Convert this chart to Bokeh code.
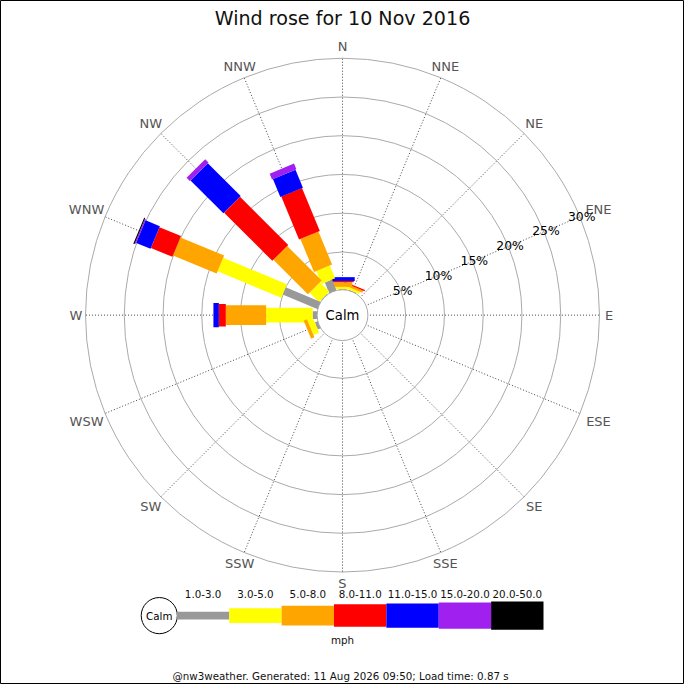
import numpy as np
from bokeh.plotting import figure
from bokeh.models import Range1d
from bokeh.core.properties import value
from bokeh.embed import file_html
from bokeh.resources import INLINE

# ---------------- data ----------------
title_text = "Wind rose for 10 Nov 2016"
footer_text = "@nw3weather. Generated: 11 Aug 2026 09:50; Load time: 0.87 s"
unit_text = "mph"
calm_text = "Calm"

directions = ["N", "NNE", "NE", "ENE", "E", "ESE", "SE", "SSE",
              "S", "SSW", "SW", "WSW", "W", "WNW", "NW", "NNW"]
speed_bins = ["1.0-3.0", "3.0-5.0", "5.0-8.0", "8.0-11.0",
              "11.0-15.0", "15.0-20.0", "20.0-50.0"]

# percent of time, per direction (same order as `directions`)
#            N     NNE   NE   ENE  E    ESE  SE   SSE  S    SSW  SW   WSW   W    WNW   NW    NNW
pct_1_3   = [0.2,  0.2,  0,   0,   0,   0,   0,   0,   0,   0,   0,   0.5,  0.7, 5.0,  0.2,  1.6]
pct_3_5   = [0.3,  0.3,  0,   0,   0,   0,   0,   0,   0,   0,   0,   0.8,  6.0, 8.9,  1.7,  1.8]
pct_5_8   = [0.6,  0.3,  0,   0,   0,   0,   0,   0,   0,   0,   0,   0.45, 5.2, 6.1,  6.3,  4.6]
pct_8_11  = [0.15, 0.15, 0,   0,   0,   0,   0,   0,   0,   0,   0,   0,    0.9, 3.0,  8.8,  6.0]
pct_11_15 = [0.5,  0,    0,   0,   0,   0,   0,   0,   0,   0,   0,   0,    0.7, 2.0,  6.0,  2.5]
pct_15_20 = [0,    0,    0,   0,   0,   0,   0,   0,   0,   0,   0,   0,    0,   0.15, 0.6,  0.8]
pct_20_50 = [0,    0,    0,   0,   0,   0,   0,   0,   0,   0,   0,   0,    0,   0.15, 0,    0]

pct_ticks = [5, 10, 15, 20, 25, 30]

# ---------------- styles ----------------
bin_colors = ["#999999", "#ffff00", "#ffa500", "#ff0000", "#0000ff", "#a020f0", "#000000"]
bin_widths = [8, 15, 20, 23, 25, 27, 29]   # leg width in px
FONT = value("DejaVu Sans")
K = 684 / 700.0

def fs(px):
    return value(f"{px * K:.1f}px")

CX, CY = 350.0, 322.0
R_CALM = 25.0
R_OUT = 263.0
R_PER_PCT = (R_OUT - R_CALM) / pct_ticks[-1]

def rad(p):
    return R_CALM + p * R_PER_PCT

p = figure(width=684, height=684, output_backend="svg", toolbar_location=None,
           x_range=Range1d(0, 700), y_range=Range1d(700, 0),
           x_axis_type=None, y_axis_type=None, min_border=0)
p.background_fill_color = "white"
p.border_fill_color = "white"
p.outline_line_color = "black"
p.outline_line_width = 1

# grid circles
p.circle(x=[CX] * len(pct_ticks), y=[CY] * len(pct_ticks),
         radius=[rad(t) for t in pct_ticks],
         fill_color=None, line_color="#aaaaaa", line_width=1)

# spokes
angs = np.deg2rad(np.arange(16) * 22.5)
ux, uy = np.sin(angs), -np.cos(angs)
p.segment(x0=CX + R_CALM * ux, y0=CY + R_CALM * uy,
          x1=CX + R_OUT * ux, y1=CY + R_OUT * uy,
          line_color="#444444", line_width=1, line_dash="1 2")

# legs
series = [pct_1_3, pct_3_5, pct_5_8, pct_8_11, pct_11_15, pct_15_20, pct_20_50]
order = sorted(range(16), key=lambda i: (4 - i) % 16)
xs, ys, cols = [], [], []
for i in order:
    u = np.array([ux[i], uy[i]])
    v = np.array([-uy[i], ux[i]])
    cum = 0.0
    for b, s in enumerate(series):
        val = s[i]
        if val <= 0:
            continue
        r0, r1 = rad(cum), rad(cum + val)
        cum += val
        h = bin_widths[b] / 2.0
        pts = [r0 * u + h * v, r1 * u + h * v, r1 * u - h * v, r0 * u - h * v]
        xs.append([CX + q[0] for q in pts])
        ys.append([CY + q[1] for q in pts])
        cols.append(bin_colors[b])
p.patches(xs=xs, ys=ys, fill_color=cols, line_color=None)

# calm circle
p.circle(x=[CX], y=[CY], radius=[26], fill_color="white", line_color="#aaaaaa", line_width=1)
p.text(x=[CX], y=[CY], text=[calm_text], text_font=FONT, text_font_size=fs(13.5),
       text_align="center", text_baseline="middle", text_color="black")

# compass labels
lab_fs = 13.3
lx, ly = [], []
for i, d in enumerate(directions):
    w = 0.72 * lab_fs * len(d)
    h = lab_fs
    ax, ay = abs(ux[i]), abs(uy[i])
    ext = min(w / 2 / ax if ax > 1e-6 else 1e9, h / 2 / ay if ay > 1e-6 else 1e9)
    rr = R_OUT + 5 + ext
    lx.append(CX + rr * ux[i])
    ly.append(CY + rr * uy[i])
p.text(x=lx, y=ly, text=directions, text_font=FONT, text_font_size=fs(lab_fs),
       text_align="center", text_baseline="middle", text_color="#555555")

# percentage labels along ENE
ia = directions.index("ENE")
p.text(x=[CX + (rad(t) + 2) * ux[ia] for t in pct_ticks],
       y=[CY + (rad(t) + 2) * uy[ia] for t in pct_ticks],
       text=[f"{t}%" for t in pct_ticks], text_font=FONT, text_font_size=fs(12.7),
       text_align="center", text_baseline="middle", text_color="black")

# title
p.text(x=[CX], y=[18], text=[title_text], text_font=FONT, text_font_size=fs(19.5),
       text_align="center", text_baseline="middle", text_color="#111111")

# legend
LX0, LY, LSEG = 180.5, 629.5, 53.6
p.circle(x=[162.5], y=[LY], radius=[18.5], fill_color="white", line_color="black", line_width=1)
p.text(x=[162.5], y=[LY], text=[calm_text], text_font=FONT, text_font_size=fs(10.5),
       text_align="center", text_baseline="middle", text_color="black")
lefts = [LX0 + b * LSEG for b in range(len(speed_bins))]
p.quad(left=lefts, right=[l + LSEG for l in lefts],
       top=[LY - w / 2 for w in bin_widths], bottom=[LY + w / 2 for w in bin_widths],
       fill_color=bin_colors, line_color=None)
p.text(x=[l + LSEG / 2 for l in lefts], y=[607] * len(speed_bins), text=speed_bins,
       text_font=FONT, text_font_size=fs(10.5), text_align="center",
       text_baseline="middle", text_color="#111111")
p.text(x=[CX], y=[654], text=[unit_text], text_font=FONT, text_font_size=fs(10.5),
       text_align="center", text_baseline="middle", text_color="#111111")

# footer
p.text(x=[348], y=[691], text=[footer_text], text_font=FONT, text_font_size=fs(10.5),
       text_align="center", text_baseline="middle", text_color="#111111")

open("out.html", "w").write(file_html(p, INLINE))
